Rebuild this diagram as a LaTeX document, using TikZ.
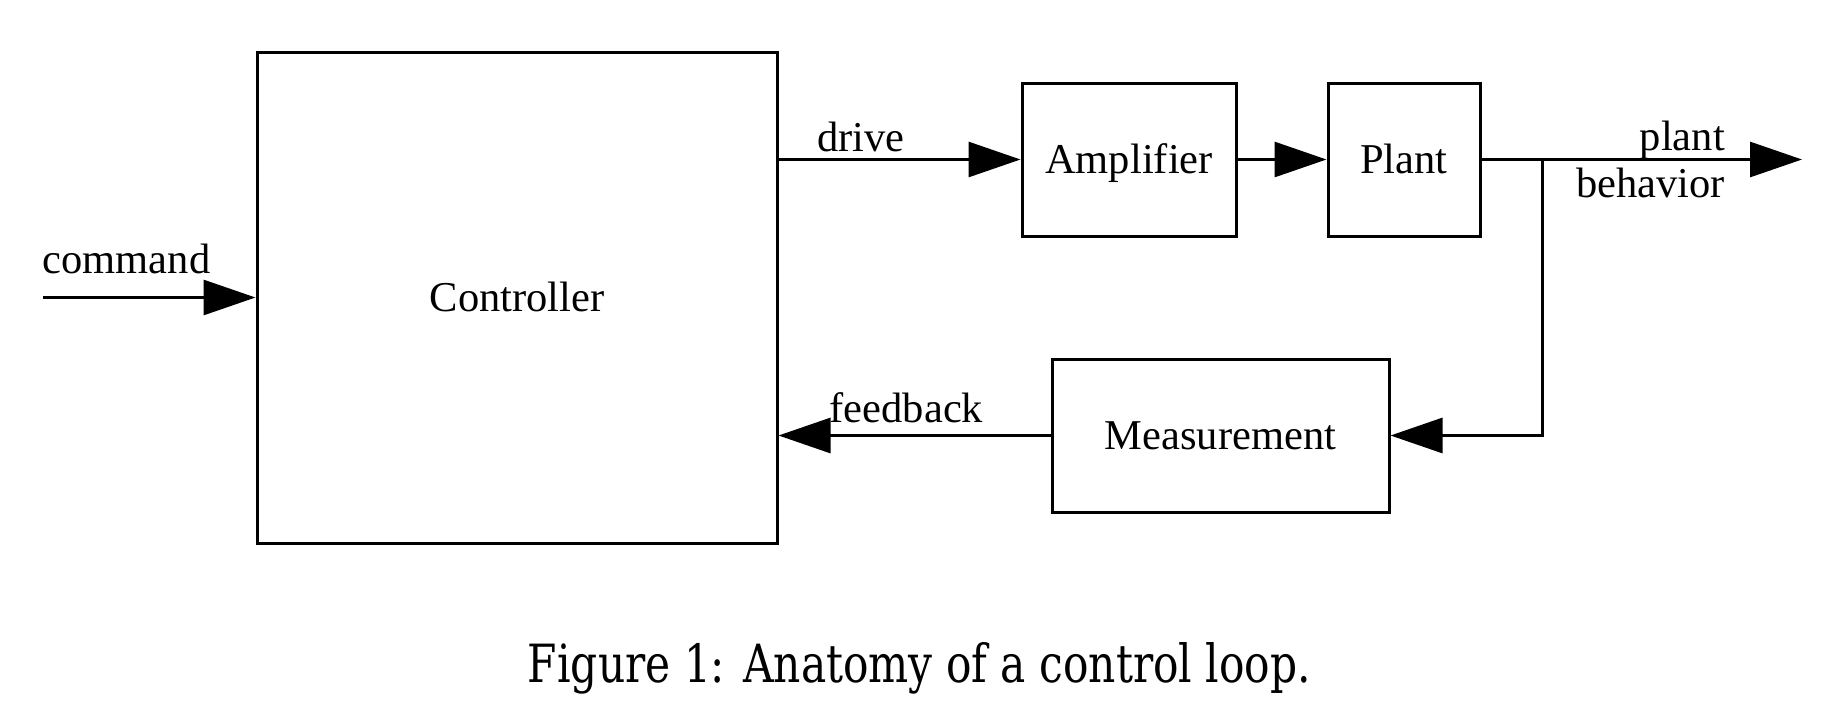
\documentclass[tikz,border=0pt]{standalone}
\usepackage{fontspec}
\setmainfont{Liberation Serif}
\newfontfamily\capfont{DejaVu Serif}
\usetikzlibrary{arrows.meta}
\begin{document}
\begin{tikzpicture}[x=1pt,y=-1pt,
  every node/.style={font=\fontsize{42.5}{50}\selectfont},
  blockbox/.style={draw, line width=3pt, inner sep=0pt, text height=27pt, text depth=0pt, align=center},
  conn/.style={line width=3pt, -{Triangle[length=52pt,width=35pt]}},
  wire/.style={line width=3pt},
  lbl/.style={anchor=base, inner sep=0pt}]
\useasboundingbox (0,0) rectangle (1838,704);
% blocks
\node[blockbox, minimum width=520pt, minimum height=491pt] (ctrl) at (517,297.5) {Controller};
\node[blockbox, minimum width=214pt, minimum height=153pt] (amp) at (1129,159.5) {Amplifier};
\node[blockbox, minimum width=152pt, minimum height=153pt] (plant) at (1404,159.5) {Plant};
\node[blockbox, minimum width=337pt, minimum height=153pt] (meas) at (1220.5,435.5) {Measurement};
% free ends
\coordinate (cmd) at (43,297.5);
\coordinate (out) at (1802,159.5);
\coordinate (br) at (1542,159.5);
% connectors
\draw[conn] (cmd) -- (ctrl.west);
\draw[conn] (ctrl.east |- amp.west) -- (amp.west);
\draw[conn] (amp.east) -- (plant.west);
\draw[conn] (plant.east) -- (out);
\draw[conn] (br) |- (meas.east);
\draw[conn] (meas.west) -- (ctrl.east |- meas.west);
% labels
\node[lbl] (lcmd) at (126.5,273) {command};
\node[lbl] (ldrive) at (861,151) {drive};
\node[lbl, anchor=base east] (lplant) at (1725,150) {plant};
\node[lbl, anchor=base east] (lbeh) at (1725,197) {behavior};
\node[lbl] (lfb) at (906.5,422) {feedback};
% caption
\node[lbl] (cap) at (919.5,682) {\resizebox{783pt}{40pt}{\capfont Figure 1: Anatomy of a control loop.}};
\end{tikzpicture}
\end{document}
